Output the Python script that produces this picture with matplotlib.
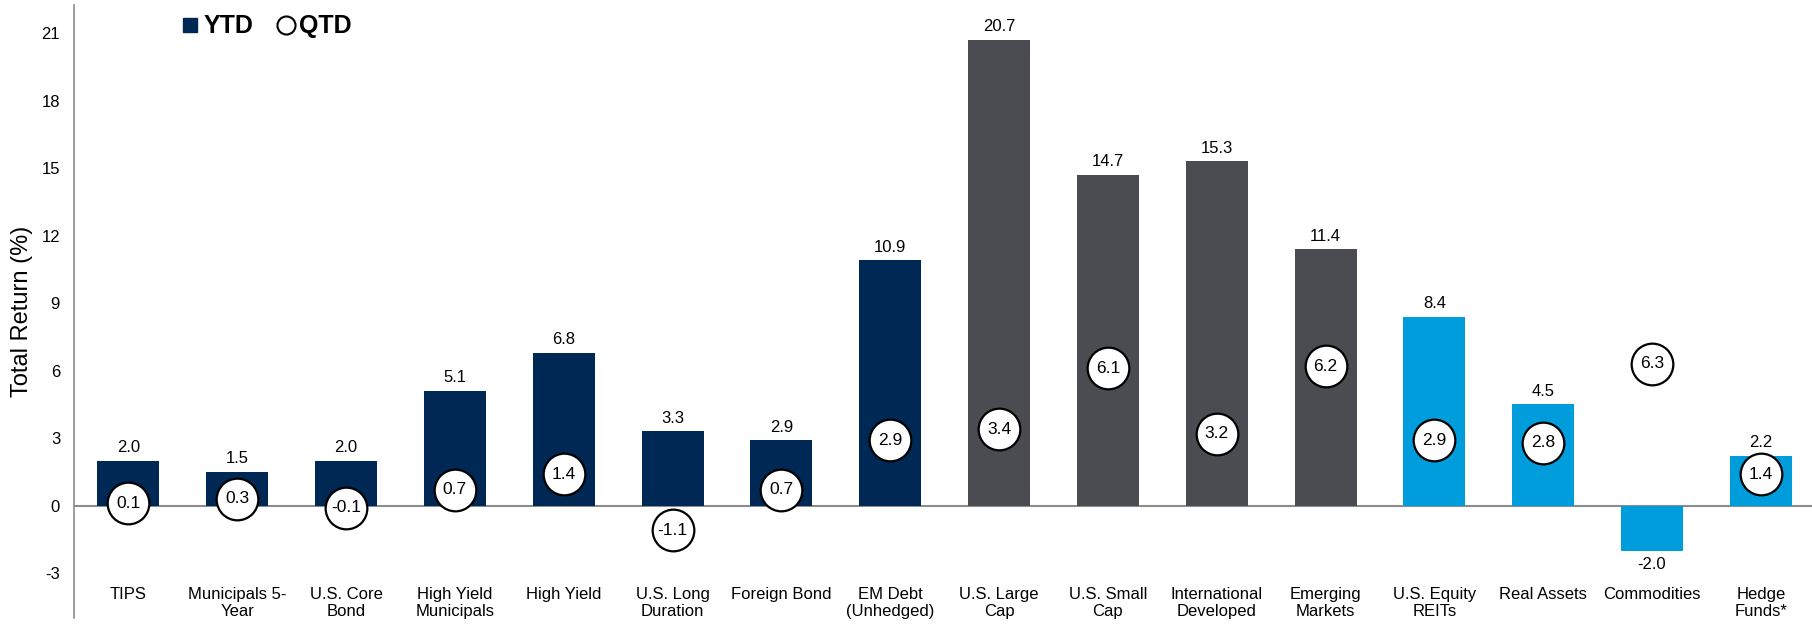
import numpy as np
import matplotlib.pyplot as plt
from matplotlib.lines import Line2D

plt.rcParams['font.family'] = ['Liberation Sans', 'DejaVu Sans']
plt.rcParams['axes.unicode_minus'] = False

# categories and values
categories = ["TIPS", "Municipals 5-\nYear", "U.S. Core\nBond", "High Yield\nMunicipals",
              "High Yield", "U.S. Long\nDuration", "Foreign Bond", "EM Debt\n(Unhedged)",
              "U.S. Large\nCap", "U.S. Small\nCap", "International\nDeveloped", "Emerging\nMarkets",
              "U.S. Equity\nREITs", "Real Assets", "Commodities", "Hedge\nFunds*"]
ytd = [2.0, 1.5, 2.0, 5.1, 6.8, 3.3, 2.9, 10.9, 20.7, 14.7, 15.3, 11.4, 8.4, 4.5, -2.0, 2.2]
qtd = [0.1, 0.3, -0.1, 0.7, 1.4, -1.1, 0.7, 2.9, 3.4, 6.1, 3.2, 6.2, 2.9, 2.8, 6.3, 1.4]
groups = ["fixed"] * 8 + ["equity"] * 4 + ["alts"] * 4

group_colors = {"fixed": "#002855", "equity": "#4a4c51", "alts": "#009ddc"}
colors = [group_colors[g] for g in groups]

fig = plt.figure(figsize=(18.12, 6.27), dpi=100)
ax = fig.add_axes([74 / 1812, 9 / 627, 1 - 74 / 1812, 613 / 627])

x = np.arange(len(categories))
bars = ax.bar(x, ytd, width=0.57, color=colors, zorder=2)

ax.axhline(0, color="#8c8c8c", lw=1.5, zorder=1)

# YTD labels above/below bars
for xi, v in zip(x, ytd):
    if v >= 0:
        ax.annotate(f"{v:.1f}", (xi, v), xytext=(0, 4), textcoords="offset points",
                    ha="center", va="bottom", fontsize=12)
    else:
        ax.annotate(f"{v:.1f}", (xi, v), xytext=(0, -5), textcoords="offset points",
                    ha="center", va="top", fontsize=12)

# QTD circles
ax.plot(x, qtd, ls="none", marker="o", ms=30, mfc="white", mec="black", mew=1.6, zorder=3)
for xi, v in zip(x, qtd):
    ax.text(xi, v, f"{v:.1f}", ha="center", va="center", fontsize=12.5, zorder=4)

ax.set_xlim(-0.5, 15.47)
ax.set_ylim(-5, 22.25)
ax.set_yticks(np.arange(-3, 22, 3))
ax.set_xticks(x)
ax.set_xticklabels(categories, fontsize=12, linespacing=1.15)
ax.tick_params(axis="x", length=0, pad=-22)
ax.tick_params(axis="y", length=0, pad=10, labelsize=12)

for s in ["top", "right", "bottom"]:
    ax.spines[s].set_visible(False)
ax.spines["left"].set_color("#8c8c8c")
ax.spines["left"].set_linewidth(1.2)

ax.set_ylabel("Total Return (%)", fontsize=17)
ax.yaxis.set_label_coords(-0.0235, 0.5)

handles = [Line2D([], [], ls="none", marker="s", ms=9.5, mfc=group_colors["fixed"], mec=group_colors["fixed"]),
           Line2D([], [], ls="none", marker="o", ms=13, mfc="white", mec="black", mew=1.5)]
fig.legend(handles, ["YTD", "QTD"], loc="upper left", bbox_to_anchor=(157 / 1812, 1.013),
           ncol=2, frameon=False, handlelength=0.8, handletextpad=0.15, columnspacing=0.9,
           prop={"size": 18, "weight": "bold"})

fig.savefig("out.png", dpi=100)
